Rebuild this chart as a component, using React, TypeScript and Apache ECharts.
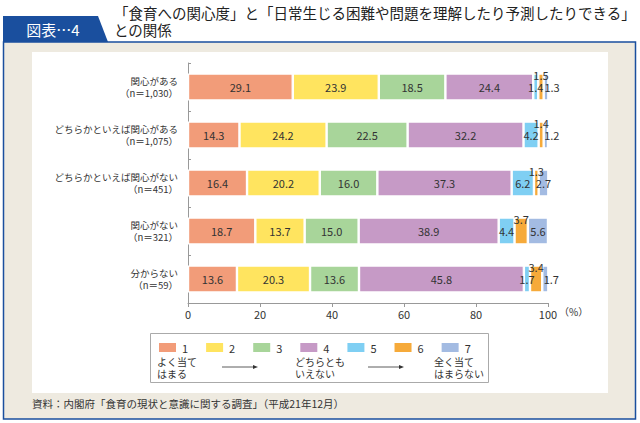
import React, { useEffect, useRef } from "react";
import * as echarts from "echarts";

const categories = [
  "関心がある\n（n＝1,030）",
  "どちらかといえば関心がある\n（n＝1,075）",
  "どちらかといえば関心がない\n（n＝451）",
  "関心がない\n（n＝321）",
  "分からない\n（n＝59）",
];
const seriesNames = ["1", "2", "3", "4", "5", "6", "7"];
const series1 = [29.1, 14.3, 16.4, 18.7, 13.6];
const series2 = [23.9, 24.2, 20.2, 13.7, 20.3];
const series3 = [18.5, 22.5, 16.0, 15.0, 13.6];
const series4 = [24.4, 32.2, 37.3, 38.9, 45.8];
const series5 = [1.4, 4.2, 6.2, 4.4, 1.7];
const series6 = [1.5, 1.4, 1.3, 3.7, 3.4];
const series7 = [1.3, 1.2, 2.7, 5.6, 1.7];
const xTicks = [0, 20, 40, 60, 80, 100];
const scaleNotes = [
  ["よく当て", "はまる"],
  ["どちらとも", "いえない"],
  ["全く当て", "はまらない"],
];

const colors = ["#F29C79", "#FFE45F", "#A8D59A", "#C69AC6", "#7FCFF3", "#F6AA3A", "#A3BBE2"];
const FONT = "Noto Sans CJK JP";
const BLUE = "#1A4F9E";

export default function App() {
  const ref = useRef<HTMLDivElement>(null);
  useEffect(() => {
    document.body.style.margin = "0";
    const chart = echarts.init(ref.current!, null, { renderer: "svg" });
    const all = [series1, series2, series3, series4, series5, series6, series7];
    const labelBase = {
      show: true,
      color: "#333",
      fontSize: 11,
      fontFamily: FONT,
      textBorderWidth: 0,
      formatter: (p: any) => Number(p.value).toFixed(1),
    };
    const series = all.map((vals, i) => {
      let label: any = { ...labelBase, position: "inside" };
      let data: any[] = vals;
      if (i === 5) {
        label = { ...labelBase, position: "top", distance: -7 };
      }
      if (i === 6) {
        data = vals.map((v) => ({ value: v, label: v < 2 ? { offset: [6, 0] } : {} }));
      }
      return {
        name: seriesNames[i],
        type: "bar",
        stack: "total",
        barWidth: 27,
        data,
        itemStyle: { color: colors[i], borderColor: "#fff", borderWidth: 1.2 },
        label,
        emphasis: { disabled: true },
      };
    });
    const noteX = [157, 295, 434];
    const noteTexts: any[] = [];
    scaleNotes.forEach((lines, i) => {
      lines.forEach((t, j) => {
        noteTexts.push({
          type: "text",
          x: noteX[i],
          y: 361.5 + j * 11.5,
          style: {
            text: t,
            fill: "#333",
            fontSize: 10,
            fontFamily: FONT,
            verticalAlign: "middle",
          },
        });
      });
    });
    const option: any = {
      animation: false,
      textStyle: { fontFamily: FONT },
      grid: { left: 188, right: 92, top: 63, bottom: 120, containLabel: false },
      legend: {
        data: seriesNames,
        left: 152,
        top: 336,
        padding: 5,
        icon: "rect",
        itemWidth: 19,
        itemHeight: 11,
        itemGap: 16,
        textStyle: {
          fontSize: 11,
          lineHeight: 11,
          height: 11,
          color: "#333",
          fontFamily: FONT,
          verticalAlign: "middle",
        },
        selectedMode: false,
      },
      xAxis: {
        type: "value",
        min: xTicks[0],
        max: xTicks[xTicks.length - 1],
        interval: 20,
        axisLine: { show: true, lineStyle: { color: "#999" } },
        axisTick: { show: true, length: 4, lineStyle: { color: "#999" } },
        axisLabel: { fontSize: 11, color: "#333", margin: 5, fontFamily: FONT },
        splitLine: { show: false },
      },
      yAxis: {
        type: "category",
        inverse: true,
        data: categories,
        axisLine: { show: true, lineStyle: { color: "#999" } },
        axisTick: { show: true, inside: true, length: 3, lineStyle: { color: "#999" } },
        axisLabel: {
          fontSize: 9.5,
          lineHeight: 12,
          color: "#333",
          margin: 10,
          align: "right",
          fontFamily: FONT,
        },
      },
      series,
      graphic: [
        {
          type: "rect",
          z: -20,
          shape: { x: 3.5, y: 42, width: 632, height: 377 },
          style: { fill: "#EEEAE0", stroke: BLUE, lineWidth: 1.5 },
        },
        {
          type: "rect",
          z: -19,
          shape: { x: 32, y: 52, width: 576, height: 341 },
          style: { fill: "#ffffff" },
        },
        {
          type: "polygon",
          z: -18,
          shape: { points: [[3, 16], [98, 16], [108, 42], [3, 42]] },
          style: { fill: BLUE },
        },
        {
          type: "text",
          x: 53,
          y: 29,
          style: {
            text: "図表…4",
            fill: "#fff",
            fontSize: 15,
            fontFamily: FONT,
            align: "center",
            verticalAlign: "middle",
          },
        },
        {
          type: "text",
          x: 114,
          y: 4,
          style: {
            text: "「食育への関心度」と「日常生じる困難や問題を理解したり予測したりできる」\nとの関係",
            fill: "#222",
            fontSize: 14.5,
            lineHeight: 17,
            fontFamily: FONT,
          },
        },
        {
          type: "text",
          x: 559,
          y: 311,
          style: {
            text: "（%）",
            fill: "#333",
            fontSize: 10,
            fontFamily: FONT,
            verticalAlign: "middle",
          },
        },
        {
          type: "rect",
          shape: { x: 150.5, y: 333.5, width: 338, height: 49 },
          style: { fill: "none", stroke: "#aaa", lineWidth: 1 },
        },
        ...noteTexts,
        {
          type: "line",
          shape: { x1: 222, y1: 367, x2: 255, y2: 367 },
          style: { stroke: "#333", lineWidth: 0.8 },
        },
        {
          type: "polygon",
          shape: { points: [[258, 367], [253, 365], [253, 369]] },
          style: { fill: "#333" },
        },
        {
          type: "line",
          shape: { x1: 368, y1: 367, x2: 401, y2: 367 },
          style: { stroke: "#333", lineWidth: 0.8 },
        },
        {
          type: "polygon",
          shape: { points: [[404, 367], [399, 365], [399, 369]] },
          style: { fill: "#333" },
        },
        {
          type: "text",
          x: 32,
          y: 403,
          style: {
            text: "資料：内閣府「食育の現状と意識に関する調査」（平成21年12月）",
            fill: "#333",
            fontSize: 10.5,
            fontFamily: FONT,
            verticalAlign: "middle",
          },
        },
      ],
    };
    chart.setOption(option);
    return () => chart.dispose();
  }, []);
  return <div ref={ref} style={{ width: 640, height: 423 }} />;
}
